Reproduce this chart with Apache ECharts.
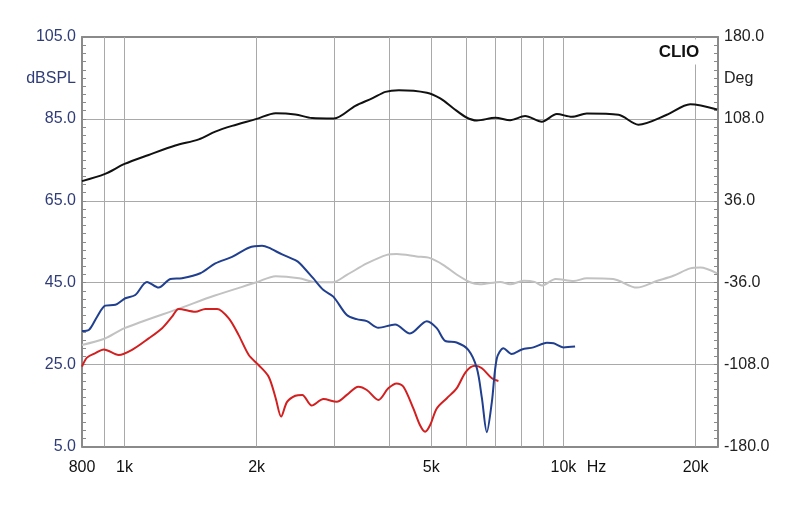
<!DOCTYPE html>
<html><head><meta charset="utf-8">
<script src="https://cdn.jsdelivr.net/npm/echarts@6/dist/echarts.min.js"></script>
<style>html,body{margin:0;padding:0;background:#fff}#c{width:800px;height:505px}</style>
</head><body><div id="c"></div>
<script>
// ---- data (frequency in Hz, level in dBSPL) ----
const freqBlack = [800, 900, 1000, 1135, 1305, 1476, 1610, 1758, 2000, 2210, 2450, 2675, 3000, 3357, 3665, 3930, 4217, 4885, 5240, 5610, 6000, 6350, 7000, 7560, 8180, 8930, 9660, 10450, 11300, 13350, 14820, 17200, 19450, 22400];
const splBlack  = [69.8, 71.5, 74.0, 76.2, 78.5, 80.0, 81.9, 83.3, 85.0, 86.4, 86.1, 85.2, 85.1, 88.2, 90.0, 91.6, 92.0, 91.4, 90.0, 87.6, 85.4, 84.6, 85.3, 84.7, 85.7, 84.3, 86.2, 85.5, 86.3, 86.0, 83.6, 86.0, 88.6, 87.3];

const freqGray = [800, 900, 1000, 1350, 1600, 2000, 2210, 2500, 2700, 2980, 3210, 3565, 3960, 4170, 4630, 4970, 5330, 5710, 6130, 6450, 7180, 7560, 8120, 8600, 8930, 9600, 10560, 11300, 12980, 14700, 16300, 17800, 19450, 20500, 22400];
const splGray  = [29.8, 31.3, 33.9, 38.9, 41.8, 45.1, 46.6, 46.1, 45.2, 45.1, 46.9, 49.7, 51.8, 52.0, 51.4, 51.0, 49.3, 47.0, 45.1, 44.6, 45.2, 44.6, 45.5, 45.2, 44.3, 45.9, 45.4, 46.1, 45.9, 43.8, 45.4, 46.7, 48.5, 48.7, 47.3];

const freqBlue = [800, 829, 866, 904, 953, 1004, 1058, 1125, 1196, 1272, 1352, 1488, 1610, 1758, 1919, 2058, 2130, 2286, 2450, 2510, 2690, 2840, 2990, 3210, 3380, 3565, 3788, 4135, 4470, 4885, 5145, 5375, 5710, 6070, 6350, 6520, 6690, 6870, 7050, 7300, 7620, 8040, 8540, 9170, 9500, 10000, 10630];
const splBlue  = [33.2, 33.45, 36.7, 39.4, 39.6, 41.2, 42.0, 45.2, 43.8, 45.9, 46.1, 47.3, 49.7, 51.3, 53.55, 54.0, 53.55, 51.9, 50.5, 49.7, 46.1, 43.2, 41.6, 37.1, 36.1, 35.6, 34.0, 34.8, 32.6, 35.6, 33.9, 30.8, 30.4, 28.6, 24.1, 16.8, 8.5, 15.9, 26.5, 29.0, 27.6, 28.7, 29.2, 30.35, 30.2, 29.2, 29.4];

const freqRed = [800, 821, 858, 897, 970, 1040, 1135, 1218, 1283, 1329, 1450, 1528, 1625, 1728, 1820, 1919, 2020, 2130, 2210, 2274, 2346, 2450, 2540, 2670, 2840, 3045, 3210, 3410, 3565, 3788, 3990, 4170, 4320, 4550, 4710, 4840, 4970, 5145, 5425, 5710, 6000, 6290, 6520, 6870, 7110];
const splRed  = [24.5, 26.7, 27.8, 28.7, 27.35, 28.6, 31.4, 33.9, 36.7, 38.6, 37.9, 38.6, 38.6, 36.3, 32.2, 27.35, 24.9, 22.05, 16.8, 12.3, 15.9, 17.4, 17.6, 15.0, 16.6, 15.9, 17.6, 19.6, 18.8, 16.35, 19.2, 20.4, 19.6, 14.3, 10.25, 8.6, 10.25, 14.3, 16.8, 19.2, 23.3, 24.7, 24.1, 21.65, 21.0];

// axis definitions
const xMin = 800, xMax = 22500;
const gridFreqs = [900, 1000, 2000, 3000, 4000, 5000, 6000, 7000, 8000, 9000, 10000, 20000];
const xTickFreqs = [800, 1000, 2000, 5000, 10000, 11900, 20000];
const xTickLabels = ['800', '1k', '2k', '5k', '10k', 'Hz', '20k'];
const yLeftMin = 5, yLeftMax = 105, yLeftStep = 20;
const yRightMin = -180, yRightMax = 180, yRightStep = 72;
const leftAxisName = 'dBSPL', rightAxisName = 'Deg', brand = 'CLIO';

const FONT = '"Liberation Sans", Arial, Helvetica, sans-serif';
const FRAME = '#8a8a8a', GRID = '#a9a9a9';
const pair = (fs, vs) => fs.map((f, i) => [f, vs[i]]);

const chart = echarts.init(document.getElementById('c'), null, {renderer: 'canvas'});
const frameAxis = {axisLine: {show: true, onZero: false, lineStyle: {color: FRAME, width: 2}}};
const option = {
  animation: false,
  backgroundColor: '#fff',
  grid: {left: 82, right: 82, top: 37, bottom: 58.5},
  xAxis: [
    Object.assign({type: 'log', logBase: 10, min: xMin, max: xMax, position: 'bottom',
      axisTick: {show: false}, axisLabel: {show: false}, splitLine: {show: false}}, frameAxis),
    Object.assign({type: 'log', logBase: 10, min: xMin, max: xMax, position: 'top',
      axisTick: {show: false}, axisLabel: {show: false}, splitLine: {show: false}}, frameAxis)
  ],
  yAxis: [
    Object.assign({type: 'value', min: yLeftMin, max: yLeftMax, interval: yLeftStep, position: 'left',
      axisTick: {show: true, inside: true, length: 4, lineStyle: {color: FRAME}},
      minorTick: {show: true, splitNumber: 10, length: 4, lineStyle: {color: FRAME}},
      axisLabel: {color: '#2f3c78', fontSize: 16, fontFamily: FONT, margin: 6, formatter: v => v.toFixed(1)},
      splitLine: {show: true, lineStyle: {color: GRID, width: 1}}}, frameAxis),
    Object.assign({type: 'value', min: yRightMin, max: yRightMax, interval: yRightStep, position: 'right',
      axisTick: {show: true, inside: true, length: 4, lineStyle: {color: FRAME}},
      minorTick: {show: true, splitNumber: 10, length: 4, lineStyle: {color: FRAME}},
      axisLabel: {color: '#222', fontSize: 16, fontFamily: FONT, margin: 6, formatter: v => v.toFixed(1)},
      splitLine: {show: false}}, frameAxis)
  ],
  graphic: [
    {type: 'text', z: 50, x: 76, y: 79, style: {text: leftAxisName, align: 'right', verticalAlign: 'middle', font: '16px ' + FONT, fill: '#2f3c78'}},
    {type: 'text', z: 50, x: 724, y: 79, style: {text: rightAxisName, align: 'left', verticalAlign: 'middle', font: '16px ' + FONT, fill: '#222'}},
    {type: 'text', z: 50, x: 679, y: 52, style: {text: brand, align: 'center', verticalAlign: 'middle', font: 'bold 17px ' + FONT, fill: '#111', backgroundColor: '#fff', padding: [2, 3, 6, 3]}}
  ],
  series: [
    {name: 'gray', type: 'line', data: pair(freqGray, splGray), smooth: 0.3, symbol: 'none',
      lineStyle: {color: '#c2c2c2', width: 2}, z: 2,
      markLine: {silent: true, z: 1, symbol: ['none', 'none'], animation: false,
        lineStyle: {color: GRID, width: 1, type: 'solid'}, label: {show: false},
        emphasis: {disabled: true},
        data: gridFreqs.map(f => ({xAxis: f}))}},
    {name: 'black', type: 'line', data: pair(freqBlack, splBlack), smooth: 0.3, symbol: 'none',
      lineStyle: {color: '#111', width: 2}, z: 3,
      markLine: {silent: true, z: 1, symbol: ['none', 'none'], animation: false,
        lineStyle: {color: 'rgba(0,0,0,0)', width: 0, type: 'solid'},
        emphasis: {disabled: true},
        label: {show: true, position: 'start', distance: 13, color: '#111', fontSize: 16, fontFamily: FONT},
        data: xTickFreqs.map((f, i) => ({xAxis: f, label: {formatter: xTickLabels[i]}}))}},
    {name: 'red', type: 'line', data: pair(freqRed, splRed), smooth: 0.3, symbol: 'none',
      lineStyle: {color: '#d21f1f', width: 2}, z: 4},
    {name: 'blue', type: 'line', data: pair(freqBlue, splBlue), smooth: 0.3, symbol: 'none',
      lineStyle: {color: '#203f8f', width: 2}, z: 5}
  ]
};
chart.setOption(option);
</script>
</body></html>
